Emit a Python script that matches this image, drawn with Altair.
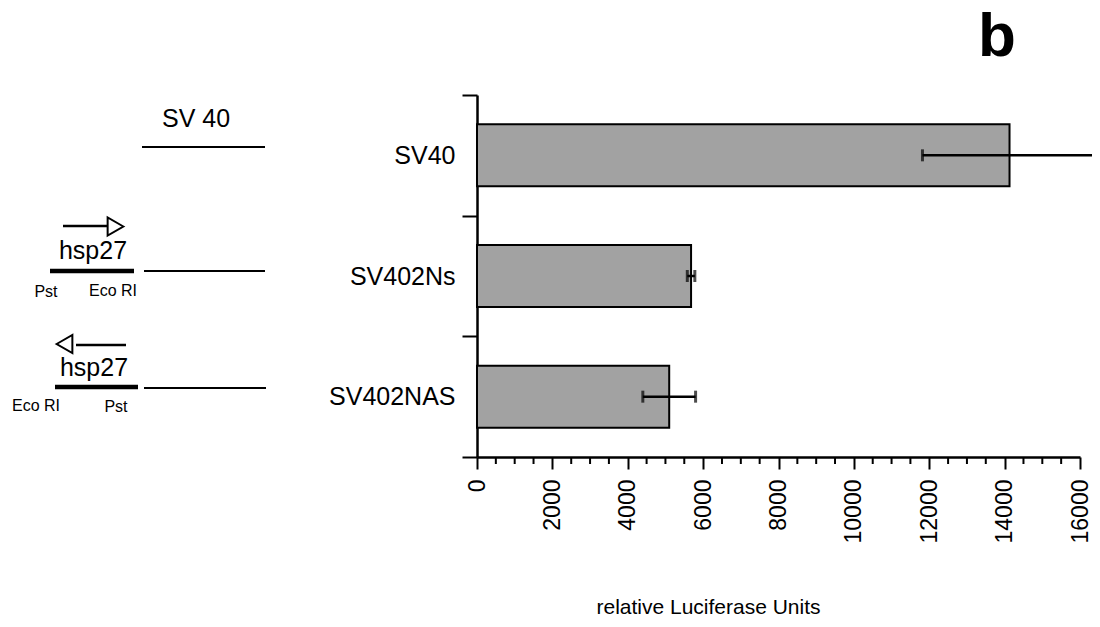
import altair as alt
import pandas as pd

# ---- chart data -------------------------------------------------------------
categories = ["SV40", "SV402Ns", "SV402NAS"]
luciferase = [14130, 5680, 5100]
errors = [2310, 100, 700]
major_ticks = [0, 2000, 4000, 6000, 8000, 10000, 12000, 14000, 16000]
minor_ticks = [v for v in range(500, 16000, 500) if v % 2000 != 0]

# ---- schematic (page pixels) ------------------------------------------------
diag_labels = ["SV 40", "hsp27", "hsp27"]
diag_label_x = [196, 93, 94]
diag_label_y = [127, 259, 376]
site_labels = ["Pst", "Eco RI", "Eco RI", "Pst"]
site_x = [46, 113, 36, 116]
site_y = [297, 296, 411, 412]
seg_x1 = [142, 63, 50, 144, 76, 55, 144]
seg_x2 = [265, 107, 134, 265, 126, 138, 266]
seg_y = [147, 226, 271, 271, 345, 387, 388]
seg_w = [2, 2.5, 4.5, 2, 2.5, 4.5, 2]
arrow_x = [115.5, 64.5]
arrow_y = [226.5, 344]
arrow_shape = ["triangle-right", "triangle-left"]

OX, OY = 477, 95          # page position of plot origin
W, H = 603, 362
FONT = "Liberation Sans"
NARROW = "Liberation Sans Narrow, Liberation Sans"

df = pd.DataFrame({"construct": categories, "luc": luciferase, "err": errors})
df["lo"] = df["luc"] - df["err"]
df["hi"] = df["luc"] + df["err"]
one = pd.DataFrame({"k": [0]})

xscale = alt.Scale(domain=[0, 16000], nice=False, zero=True)
yscale = alt.Scale(domain=categories, paddingInner=0, paddingOuter=0)

xaxis = alt.Axis(
    values=major_ticks, format="d", labelAngle=270, labelFont=FONT,
    labelFontSize=23, labelColor="black", labelPadding=10, labelFlush=False,
    labelOverlap=False, tickSize=12, tickWidth=2, tickColor="black",
    domainWidth=2.5, domainColor="black", grid=False,
    title="relative Luciferase Units", titleFont=FONT, titleFontSize=21,
    titleFontWeight="normal", titleColor="black", titleX=231, titleY=156,
    titleAlign="center", titleBaseline="alphabetic",
)
yaxis = alt.Axis(
    title=None, labelFont=FONT, labelFontSize=25, labelColor="black",
    labelPadding=7, tickBand="extent", tickSize=15, tickWidth=2,
    tickColor="black", domainWidth=2.5, domainColor="black", grid=False,
)

base = alt.Chart(df)
Y = alt.Y("construct:N", sort=categories, scale=yscale, axis=yaxis)


def X(field):
    return alt.X(field, scale=xscale, axis=xaxis)


bars = base.mark_bar(
    fill="#a2a2a2", stroke="black", strokeWidth=2, height={"band": 0.514}
).encode(x=X("luc:Q"), y=Y)
err_line = base.mark_rule(color="black", strokeWidth=2.5).encode(
    x=X("lo:Q"), x2="hi:Q", y=Y
)
cap_lo = base.mark_tick(color="black", thickness=3, size=12).encode(
    x=X("lo:Q"), y=Y
)
cap_hi = base.mark_tick(color="black", thickness=3, size=12).encode(
    x=X("hi:Q"), y=Y
)
minor = alt.Chart(pd.DataFrame({"t": minor_ticks})).mark_rule(
    color="black", strokeWidth=2
).encode(x=X("t:Q"), y=alt.value(H), y2=alt.value(H + 7))

layers = [bars, err_line, cap_lo, cap_hi, minor]

# schematic layers, positioned in pixels relative to the plot origin
for x1, x2, yy, w in zip(seg_x1, seg_x2, seg_y, seg_w):
    layers.append(
        alt.Chart(one).mark_rule(color="black", strokeWidth=w).encode(
            x=alt.value(x1 - OX), x2=alt.value(x2 - OX), y=alt.value(yy - OY)
        )
    )
for ax, ay, shp in zip(arrow_x, arrow_y, arrow_shape):
    layers.append(
        alt.Chart(one).mark_point(
            shape=shp, filled=False, color="black", strokeWidth=2, size=330,
            opacity=1,
        ).encode(x=alt.value(ax - OX), y=alt.value(ay - OY))
    )
for t, tx, ty in zip(diag_labels, diag_label_x, diag_label_y):
    layers.append(
        alt.Chart(one).mark_text(
            text=t, font=FONT, fontSize=25, color="black", align="center",
            baseline="alphabetic",
        ).encode(x=alt.value(tx - OX), y=alt.value(ty - OY))
    )
for t, tx, ty in zip(site_labels, site_x, site_y):
    layers.append(
        alt.Chart(one).mark_text(
            text=t, font=NARROW, fontSize=16, color="black", align="center",
            baseline="alphabetic",
        ).encode(x=alt.value(tx - OX), y=alt.value(ty - OY))
    )
layers.append(
    alt.Chart(one).mark_text(
        text="b", font=FONT, fontSize=62, fontWeight="bold", color="black",
        align="center", baseline="alphabetic",
    ).encode(x=alt.value(997 - OX), y=alt.value(56 - OY))
)

chart = alt.layer(*layers).properties(
    width=W, height=H,
    autosize=alt.AutoSizeParams(type="none"),
    padding={"left": OX - 8, "top": OY - 8, "right": 12, "bottom": 162},
    background="white",
).configure_view(stroke=None)

chart.save("out.html", embed_options={"renderer": "svg", "actions": False})
